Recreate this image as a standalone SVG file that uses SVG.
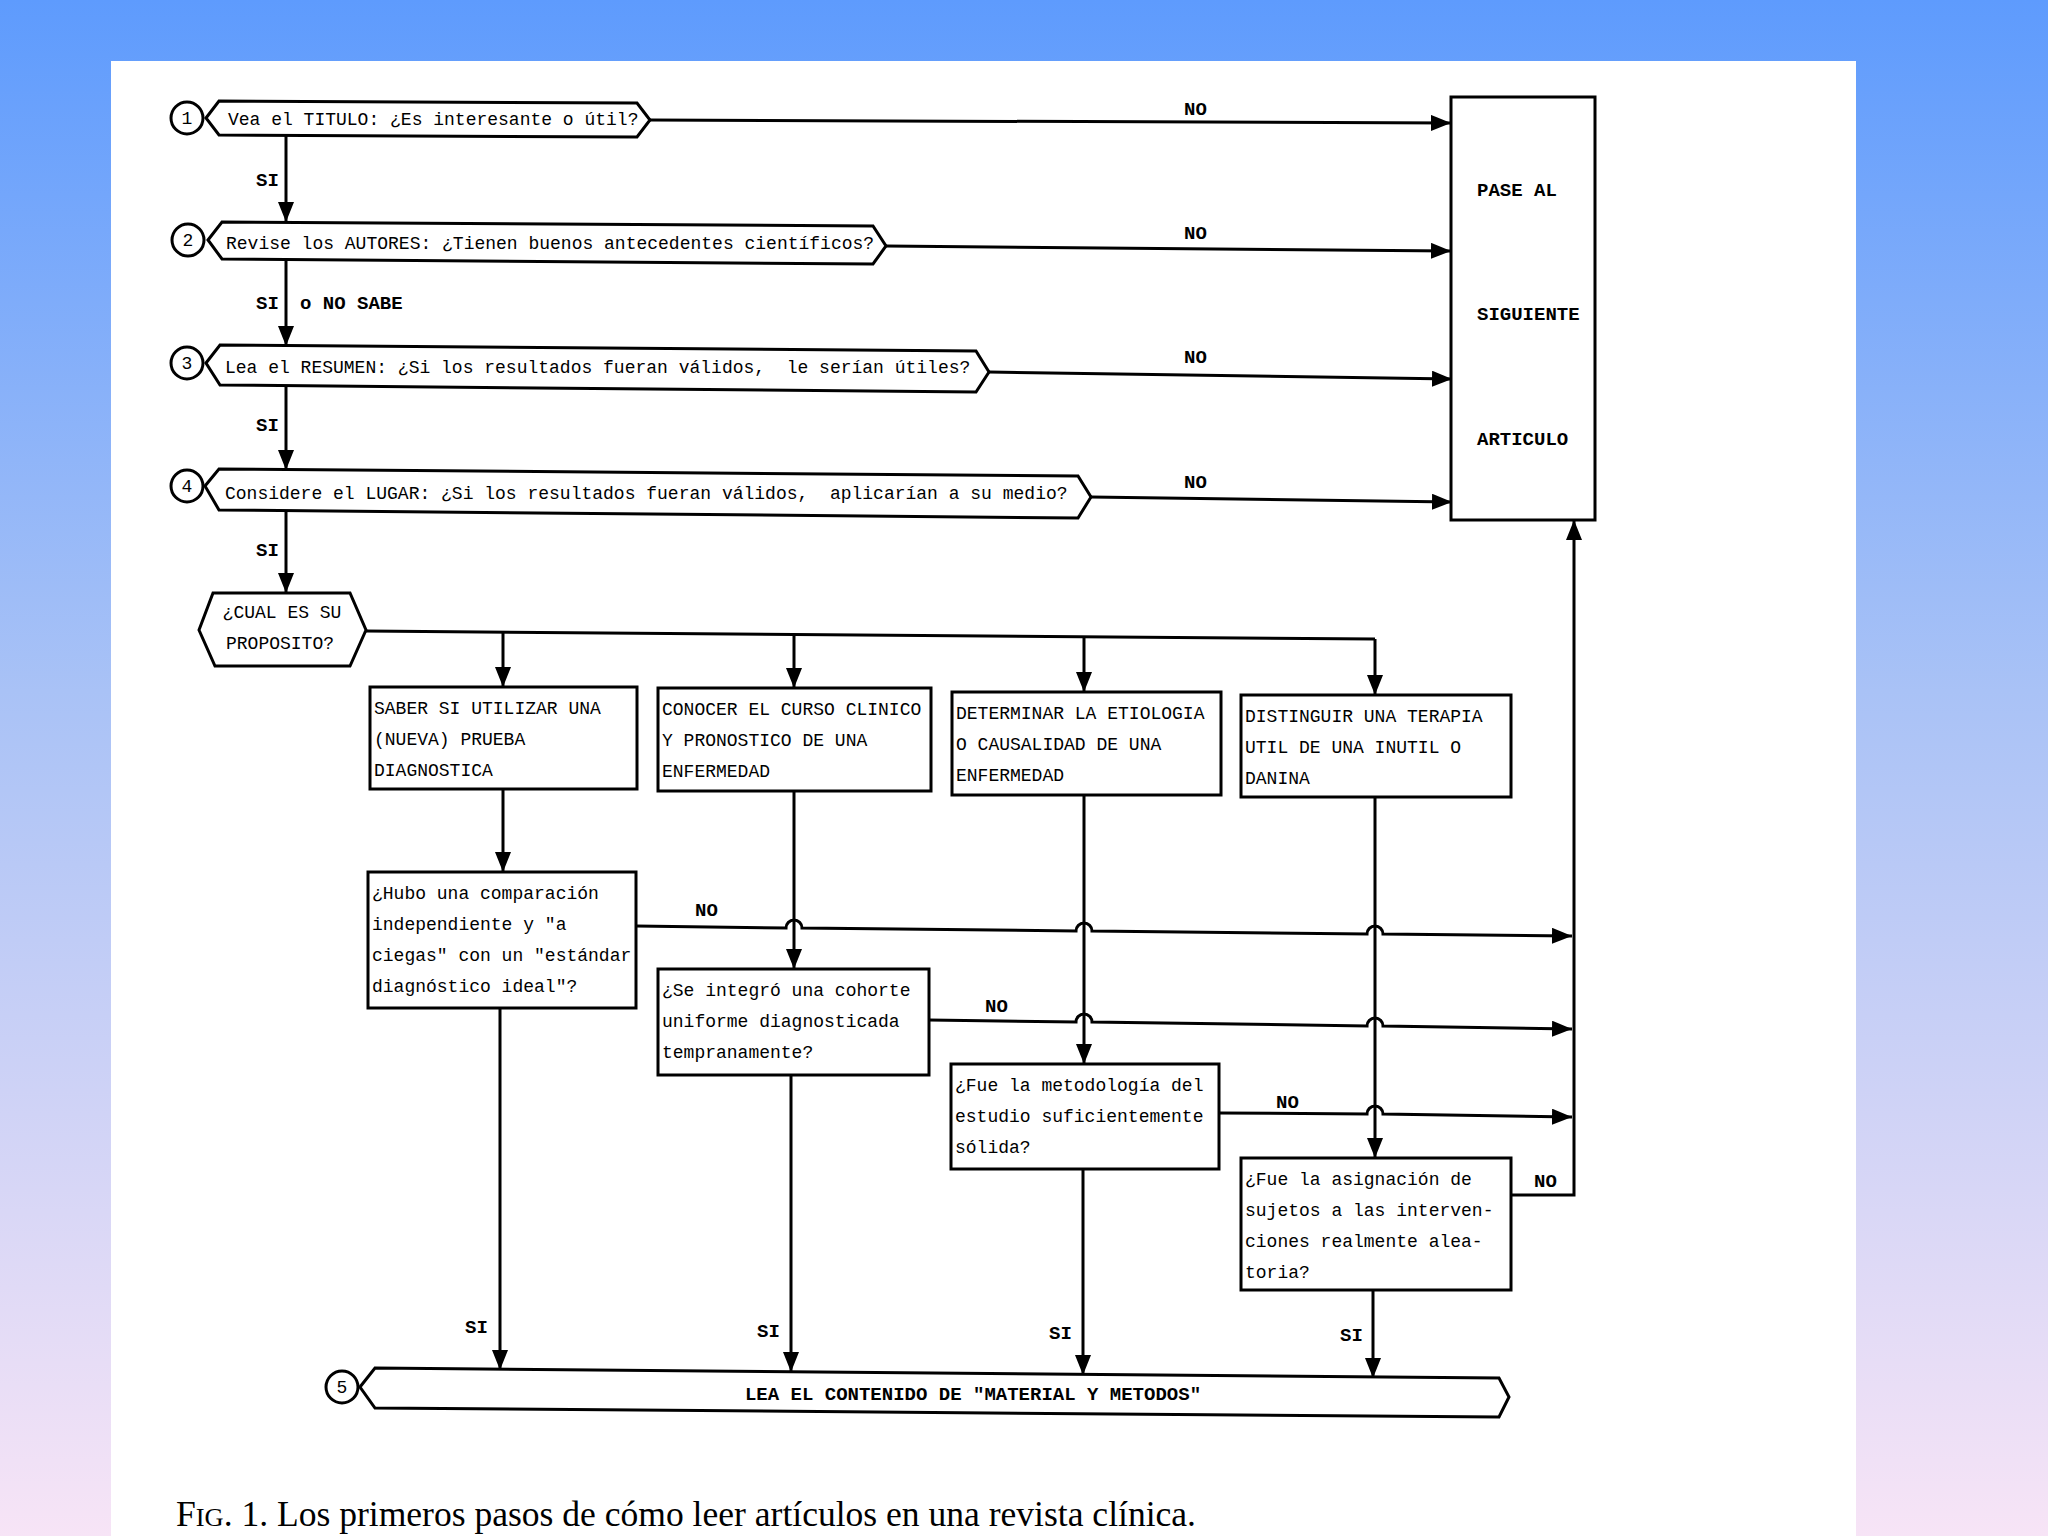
<svg xmlns="http://www.w3.org/2000/svg" width="2048" height="1536" viewBox="0 0 2048 1536">
<defs>
<linearGradient id="bg" x1="0" y1="0" x2="0" y2="1">
<stop offset="0" stop-color="#5e9bfd"/>
<stop offset="0.45" stop-color="#a9c2f6"/>
<stop offset="1" stop-color="#f7e4f6"/>
</linearGradient>
<marker id="ah" viewBox="0 0 20 16" refX="20" refY="8" markerWidth="20" markerHeight="16" markerUnits="userSpaceOnUse" orient="auto">
<path d="M0,0 L20,8 L0,16 z" fill="#000"/>
</marker>
<style>
.sh{fill:#fff;stroke:#000;stroke-width:3}
.ln{fill:none;stroke:#000;stroke-width:3}
.ar{fill:none;stroke:#000;stroke-width:3;marker-end:url(#ah)}
.t{font-family:"Liberation Mono","DejaVu Sans Mono",monospace;font-size:18px;fill:#000}
.b{font-family:"Liberation Mono","DejaVu Sans Mono",monospace;font-size:19px;font-weight:bold;fill:#000}
.lb{font-family:"Liberation Mono","DejaVu Sans Mono",monospace;font-size:19px;font-weight:bold;fill:#000;text-anchor:middle}
.n{font-family:"Liberation Mono","DejaVu Sans Mono",monospace;font-size:18px;fill:#000;text-anchor:middle}
.cap{font-family:"Liberation Serif","Times New Roman",serif;font-size:35px;fill:#000}
</style>
</defs>
<rect x="0" y="0" width="2048" height="1536" fill="url(#bg)"/>
<rect x="111" y="61" width="1745" height="1475" fill="#fff"/>

<g id="connectors">
<path class="ar" d="M650,120 L1451,123"/>
<path class="ar" d="M886,246 L1451,251"/>
<path class="ar" d="M989,372 L1452,379"/>
<path class="ar" d="M1091,497 L1452,502"/>
<path class="ar" d="M286,136 L286,222"/>
<path class="ar" d="M286,260 L286,346"/>
<path class="ar" d="M286,387 L286,470"/>
<path class="ar" d="M286,512 L286,593"/>
<path class="ln" d="M366,631 L1375,639"/>
<path class="ar" d="M503,632 L503,687"/>
<path class="ar" d="M794,635 L794,688"/>
<path class="ar" d="M1084,637 L1084,692"/>
<path class="ar" d="M1375,639 L1375,695"/>
<path class="ar" d="M503,789 L503,872"/>
<path class="ar" d="M794,791 L794,969"/>
<path class="ar" d="M1084,795 L1084,1064"/>
<path class="ar" d="M1375,797 L1375,1158"/>
<path class="ar" d="M636,926 L786,928 A8,8 0 0 1 802,928 L1076,931 A8,8 0 0 1 1092,931 L1367,934 A8,8 0 0 1 1383,934 L1572,936"/>
<path class="ar" d="M929,1020 L1076,1022 A8,8 0 0 1 1092,1022 L1367,1026 A8,8 0 0 1 1383,1026 L1572,1029"/>
<path class="ar" d="M1219,1113 L1367,1114 A8,8 0 0 1 1383,1114 L1572,1117"/>
<path class="ar" d="M1511,1195 L1574,1195 L1574,520"/>
<path class="ar" d="M500,1008 L500,1370"/>
<path class="ar" d="M791,1075 L791,1372"/>
<path class="ar" d="M1083,1169 L1083,1375"/>
<path class="ar" d="M1373,1290 L1373,1378"/>
<text class="b" x="1184" y="115">NO</text>
<text class="b" x="1184" y="239">NO</text>
<text class="b" x="1184" y="363">NO</text>
<text class="b" x="1184" y="488">NO</text>
<text class="b" x="256" y="186">SI</text>
<text class="b" x="256" y="309">SI</text>
<text class="b" x="300" y="309">o NO SABE</text>
<text class="b" x="256" y="431">SI</text>
<text class="b" x="256" y="556">SI</text>
<text class="b" x="695" y="916">NO</text>
<text class="b" x="985" y="1012">NO</text>
<text class="b" x="1276" y="1108">NO</text>
<text class="b" x="1534" y="1187">NO</text>
<text class="b" x="465" y="1333">SI</text>
<text class="b" x="757" y="1337">SI</text>
<text class="b" x="1049" y="1339">SI</text>
<text class="b" x="1340" y="1341">SI</text>
</g>

<g id="step1">
<circle class="sh" cx="187" cy="118" r="16"/>
<text class="n" x="187" y="124">1</text>
<polygon class="sh" points="206,118 219,101 637,103 650,120 637,137 219,135"/>
<text class="t" x="228" y="125">Vea el TITULO: ¿Es interesante o útil?</text>
</g>
<g id="step2">
<circle class="sh" cx="188" cy="240" r="16"/>
<text class="n" x="188" y="246">2</text>
<polygon class="sh" points="208,240 222,222 873,226 886,246 873,264 222,259"/>
<text class="t" x="226" y="249">Revise los AUTORES: ¿Tienen buenos antecedentes científicos?</text>
</g>
<g id="step3">
<circle class="sh" cx="187" cy="363" r="16"/>
<text class="n" x="187" y="369">3</text>
<polygon class="sh" points="206,363 220,345 976,351 989,372 976,392 220,385"/>
<text class="t" x="225" y="373" xml:space="preserve">Lea el RESUMEN: ¿Si los resultados fueran válidos,  le serían útiles?</text>
</g>
<g id="step4">
<circle class="sh" cx="187" cy="486" r="16"/>
<text class="n" x="187" y="492">4</text>
<polygon class="sh" points="205,486 219,469 1078,476 1091,497 1078,518 219,510"/>
<text class="t" x="225" y="499" xml:space="preserve">Considere el LUGAR: ¿Si los resultados fueran válidos,  aplicarían a su medio?</text>
</g>
<g id="pase">
<rect class="sh" x="1451" y="97" width="144" height="423"/>
<text class="b" x="1477" y="196">PASE AL</text>
<text class="b" x="1477" y="320">SIGUIENTE</text>
<text class="b" x="1477" y="445">ARTICULO</text>
</g>
<g id="proposito">
<polygon class="sh" points="199,630 213,593 350,593 366,630 350,666 215,666"/>
<text class="n" x="282" y="618">¿CUAL ES SU</text>
<text class="n" x="280" y="649">PROPOSITO?</text>
</g>
<g id="diag">
<rect class="sh" x="370" y="687" width="267" height="102"/>
<text class="t" x="374" y="714">SABER SI UTILIZAR UNA</text>
<text class="t" x="374" y="745">(NUEVA) PRUEBA</text>
<text class="t" x="374" y="776">DIAGNOSTICA</text>
</g>
<g id="curso">
<rect class="sh" x="658" y="688" width="273" height="103"/>
<text class="t" x="662" y="715">CONOCER EL CURSO CLINICO</text>
<text class="t" x="662" y="746">Y PRONOSTICO DE UNA</text>
<text class="t" x="662" y="777">ENFERMEDAD</text>
</g>
<g id="etiologia">
<rect class="sh" x="952" y="692" width="269" height="103"/>
<text class="t" x="956" y="719">DETERMINAR LA ETIOLOGIA</text>
<text class="t" x="956" y="750">O CAUSALIDAD DE UNA</text>
<text class="t" x="956" y="781">ENFERMEDAD</text>
</g>
<g id="terapia">
<rect class="sh" x="1241" y="695" width="270" height="102"/>
<text class="t" x="1245" y="722">DISTINGUIR UNA TERAPIA</text>
<text class="t" x="1245" y="753">UTIL DE UNA INUTIL O</text>
<text class="t" x="1245" y="784">DANINA</text>
</g>
<g id="q1">
<rect class="sh" x="368" y="872" width="268" height="136"/>
<text class="t" x="372" y="899">¿Hubo una comparación</text>
<text class="t" x="372" y="930">independiente y "a</text>
<text class="t" x="372" y="961">ciegas" con un "estándar</text>
<text class="t" x="372" y="992">diagnóstico ideal"?</text>
</g>
<g id="q2">
<rect class="sh" x="658" y="969" width="271" height="106"/>
<text class="t" x="662" y="996">¿Se integró una cohorte</text>
<text class="t" x="662" y="1027">uniforme diagnosticada</text>
<text class="t" x="662" y="1058">tempranamente?</text>
</g>
<g id="q3">
<rect class="sh" x="951" y="1064" width="268" height="105"/>
<text class="t" x="955" y="1091">¿Fue la metodología del</text>
<text class="t" x="955" y="1122">estudio suficientemente</text>
<text class="t" x="955" y="1153">sólida?</text>
</g>
<g id="q4">
<rect class="sh" x="1241" y="1158" width="270" height="132"/>
<text class="t" x="1245" y="1185">¿Fue la asignación de</text>
<text class="t" x="1245" y="1216">sujetos a las interven-</text>
<text class="t" x="1245" y="1247">ciones realmente alea-</text>
<text class="t" x="1245" y="1278">toria?</text>
</g>
<g id="step5">
<circle class="sh" cx="342" cy="1387" r="16"/>
<text class="n" x="342" y="1393">5</text>
<polygon class="sh" points="360,1387 375,1368 1499,1378 1509,1397 1499,1417 375,1408"/>
<text class="lb" x="973" y="1400">LEA EL CONTENIDO DE "MATERIAL Y METODOS"</text>
</g>
<text class="cap" x="176" y="1526" textLength="1020" lengthAdjust="spacingAndGlyphs">F<tspan font-size="26px">IG</tspan>. 1. Los primeros pasos de cómo leer artículos en una revista clínica.</text>
</svg>
